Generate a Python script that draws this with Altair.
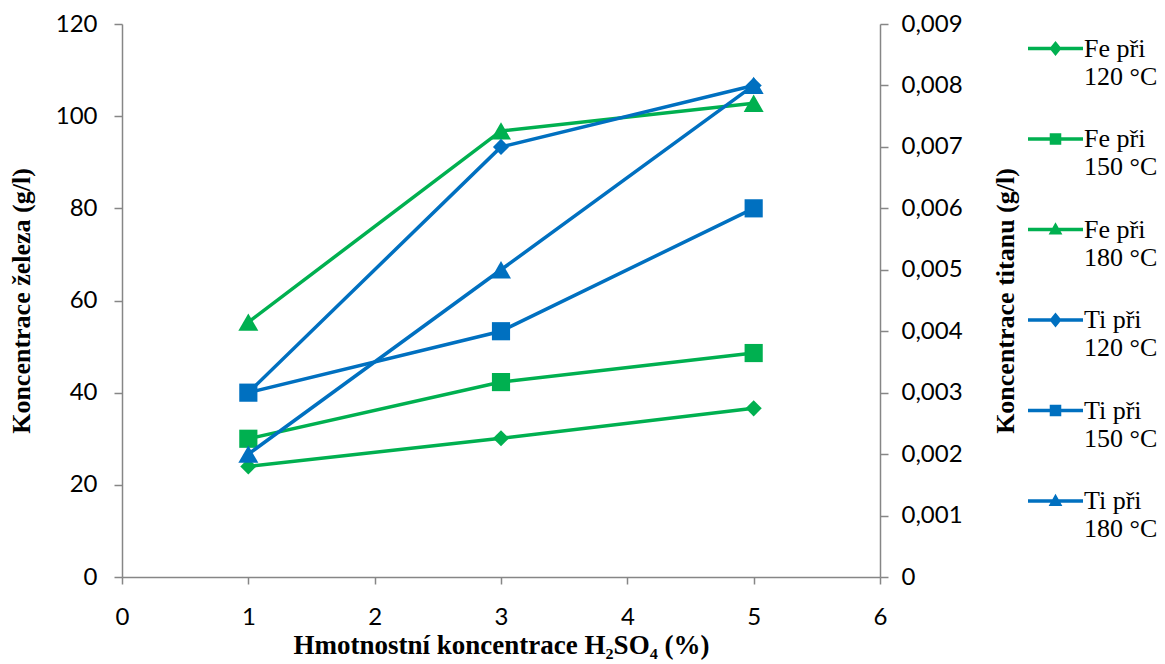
import altair as alt
import pandas as pd

# ---- data ----
x_vals = [1, 3, 5]
fe_120 = [24.0, 30.1, 36.6]
fe_150 = [30.0, 42.3, 48.6]
fe_180 = [55.3, 96.8, 102.8]
ti_120 = [0.0030, 0.0070, 0.0080]
ti_150 = [0.0030, 0.0040, 0.0060]
ti_180 = [0.0020, 0.0050, 0.0080]

fe_names = ["Fe při|120 °C", "Fe při|150 °C", "Fe při|180 °C"]
ti_names = ["Ti při|120 °C", "Ti při|150 °C", "Ti při|180 °C"]
x_ticks = [0, 1, 2, 3, 4, 5, 6]
fe_ticks = [0, 20, 40, 60, 80, 100, 120]
ti_ticks = [0, 0.001, 0.002, 0.003, 0.004, 0.005, 0.006, 0.007, 0.008, 0.009]

GREEN = "#00B050"
BLUE = "#0070C0"
AXIS_GREY = "#868686"
SHAPES = ["diamond", "square", "triangle-up"]
SIZES = [260, 400, 380]
TICK_FONT = "Lato"
TICK_SIZE_PX = 24


def long_df(names, series):
    rows = []
    for name, vals in zip(names, series):
        for xv, v in zip(x_vals, vals):
            rows.append({"series": name, "x": xv, "value": v})
    return pd.DataFrame(rows)


fe_df = long_df(fe_names, [fe_120, fe_150, fe_180])
ti_df = long_df(ti_names, [ti_120, ti_150, ti_180])

x_enc = alt.X(
    "x:Q",
    scale=alt.Scale(domain=[0, 6], nice=False, zero=False),
    axis=alt.Axis(
        values=x_ticks,
        title="Hmotnostní koncentrace H₂SO₄ (%)",
        titleFont="Liberation Serif",
        titleFontWeight="bold",
        titleFontSize=27,
        titleColor="black",
        titlePadding=3,
        labelFont=TICK_FONT,
        labelFontSize=TICK_SIZE_PX,
        labelColor="black",
        labelPadding=21,
        labelFlush=False,
        tickSize=7,
        tickColor=AXIS_GREY,
        domainColor=AXIS_GREY,
        domainWidth=1.5,
        tickWidth=1.5,
        grid=False,
        format="d",
    ),
)


def layer_for(df, names, color, y_enc):
    base = alt.Chart(df).encode(
        x=x_enc,
        y=y_enc,
        color=alt.Color(
            "series:N",
            scale=alt.Scale(domain=names, range=[color] * 3),
            legend=None,
        ),
    )
    lines = base.mark_line(strokeWidth=3.5).encode(detail="series:N")
    pts = base.mark_point(filled=True, opacity=1).encode(
        shape=alt.Shape("series:N", scale=alt.Scale(domain=names, range=SHAPES), legend=None),
        size=alt.Size("series:N", scale=alt.Scale(domain=names, range=SIZES), legend=None),
    )
    return alt.layer(lines, pts)


fe_y = alt.Y(
    "value:Q",
    scale=alt.Scale(domain=[0, 120], nice=False),
    axis=alt.Axis(
        orient="left",
        values=fe_ticks,
        title="Koncentrace železa (g/l)",
        titleFont="Liberation Serif",
        titleFontWeight="bold",
        titleFontSize=26,
        titleColor="black",
        titlePadding=21,
        labelFont=TICK_FONT,
        labelFontSize=TICK_SIZE_PX,
        labelColor="black",
        labelPadding=17,
        labelFlush=False,
        tickSize=8,
        tickColor=AXIS_GREY,
        domainColor=AXIS_GREY,
        domainWidth=1.5,
        tickWidth=1.5,
        grid=False,
    ),
)

ti_y = alt.Y(
    "value:Q",
    scale=alt.Scale(domain=[0, 0.009], nice=False),
    axis=alt.Axis(
        orient="right",
        values=ti_ticks,
        labelExpr="datum.value == 0 ? '0' : replace(format(datum.value, '.3f'), '.', ',')",
        title="Koncentrace titanu (g/l)",
        titleAngle=270,
        titleFont="Liberation Serif",
        titleFontWeight="bold",
        titleFontSize=26,
        titleColor="black",
        titlePadding=56,
        labelFont=TICK_FONT,
        labelFontSize=TICK_SIZE_PX,
        labelColor="black",
        labelPadding=13,
        labelFlush=False,
        tickSize=8,
        tickColor=AXIS_GREY,
        domainColor=AXIS_GREY,
        domainWidth=1.5,
        tickWidth=1.5,
        grid=False,
    ),
)

fe_layer = layer_for(fe_df, fe_names, GREEN, fe_y)
ti_layer = layer_for(ti_df, ti_names, BLUE, ti_y)

# ---- legend: line-through-marker symbols as custom paths ----
all_names = fe_names + ti_names
leg_colors = [GREEN] * 3 + [BLUE] * 3
t = 0.06
line_part = f"M-1,{-t}L1,{-t}L1,{t}L-1,{t}Z"
diamond = "M0,-0.27L0.22,0L0,0.27L-0.22,0Z"
square = "M-0.21,-0.21L0.21,-0.21L0.21,0.21L-0.21,0.21Z"
tri = "M0,-0.26L0.25,0.18L-0.25,0.18Z"
leg_paths = [line_part + diamond, line_part + square, line_part + tri] * 2

legend = alt.Legend(
    title=None,
    orient="none",
    legendX=906,
    legendY=-3,
    direction="vertical",
    symbolSize=3025,
    symbolStrokeWidth=0,
    labelFont="Liberation Serif",
    labelFontSize=26,
    labelColor="black",
    labelLimit=300,
    labelOffset=1,
    labelBaseline="middle",
    rowPadding=21.5,
    labelExpr="split(datum.label, '|')",
)

leg_df = pd.DataFrame({"leg": all_names})
legend_layer = (
    alt.Chart(leg_df)
    .mark_point(filled=True, opacity=1)
    .encode(
        color=alt.Color("leg:N", scale=alt.Scale(domain=all_names, range=leg_colors), legend=legend),
        shape=alt.Shape("leg:N", scale=alt.Scale(domain=all_names, range=leg_paths), legend=legend),
    )
    .transform_filter("false")
)

chart = (
    alt.layer(fe_layer, ti_layer, legend_layer)
    .resolve_scale(y="independent", color="independent", shape="independent", size="independent")
    .properties(
        width=758,
        height=553,
        autosize=alt.AutoSizeParams(type="none"),
        padding={"left": 122, "top": 24, "right": 285, "bottom": 87},
        background="white",
    )
    .configure_view(stroke=None)
)

chart.save("out.html", embed_options={"renderer": "svg", "actions": False})
